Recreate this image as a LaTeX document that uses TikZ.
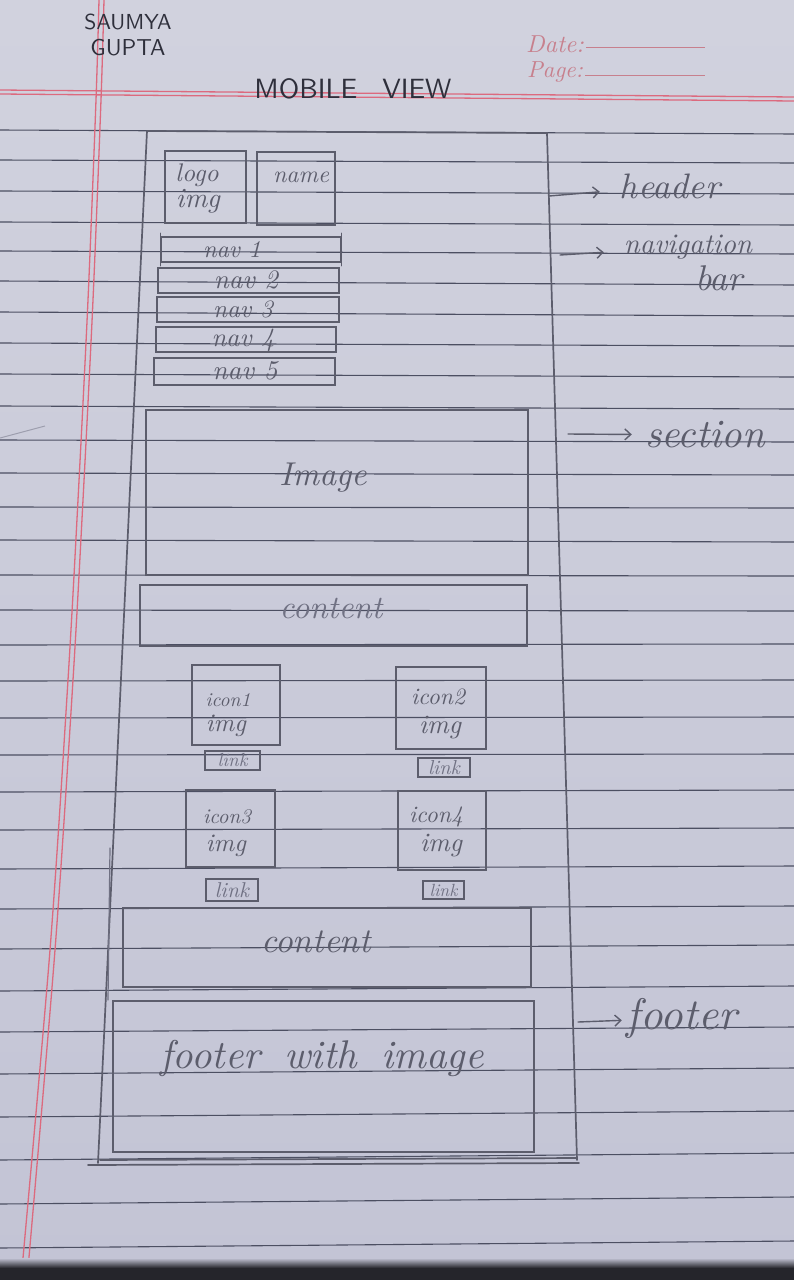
\documentclass[tikz,border=0pt]{standalone}
\usepackage{fontspec}
\usepackage{graphicx}
\usetikzlibrary{arrows.meta}

\definecolor{paper}{HTML}{D1D2DE}
\definecolor{paperlow}{HTML}{C3C4D5}
\definecolor{ruleink}{HTML}{4C4F62}
\definecolor{marginred}{HTML}{DC6A7E}
\definecolor{printred}{HTML}{C7808D}
\definecolor{pencil}{HTML}{5C5D6C}
\definecolor{pencillite}{HTML}{707183}
\definecolor{penink}{HTML}{2E2F3B}
\definecolor{tabledge}{HTML}{25252B}

% scale a piece of text to a given width (in pt)
\newcommand{\fitw}[2]{\resizebox{#1pt}{!}{#2}}

\tikzset{
  ruled/.style={draw=ruleink, line width=1.1pt},
  redrule/.style={draw=marginred, line width=1.3pt},
  frame/.style={draw=pencil, line width=1.7pt, line cap=round},
  pbox/.style={draw=pencil, line width=1.6pt, inner sep=0pt, fill=none},
  linkbox/.style={draw=pencil, line width=2pt, inner sep=0pt, fill=none},
  hand/.style={text=pencil, inner sep=0pt, font=\itshape},
  handlite/.style={text=pencillite, inner sep=0pt, font=\itshape},
  caps/.style={text=penink, inner sep=0pt, font=\sffamily},
  printed/.style={text=printred, inner sep=0pt, font=\rmfamily\itshape},
  annot/.style={draw=pencil, line width=1.4pt, line cap=round,
    -{Straight Barb[length=6pt,width=11pt]}},
}

\begin{document}
\begin{tikzpicture}[x=1pt,y=-1pt]
\useasboundingbox (0,0) rectangle (794,1280);

% notebook page
\fill[top color=paper, bottom color=paperlow] (0,0) rectangle (794,1280);

% ruled lines (left end / right end)
\foreach \l/\r in {130/134,160/163,191/194,222/225,251/254,281/285,312/316,
  343/346,374/377,406/409,440/442,473/475,507/508,540/542,575/576,610/611,
  645/644,681/680,718/717,755/754,792/790,830/828,869/866,909/906,949/945,
  991/986,1032/1027,1074/1068,1117/1111,1160/1153,1204/1197,1248/1241}
  \draw[ruled] (0,\l) -- (794,\r);

% red header rule (double)
\draw[redrule] (0,90) -- (794,97);
\draw[redrule] (0,94) -- (794,101);

% red margin (double)
\draw[redrule] plot[smooth] coordinates {(99,0) (96,100) (88,300) (78,500) (68,680) (50,950) (21,1280)};
\draw[redrule] plot[smooth] coordinates {(104,0) (101,100) (93,300) (83,500) (73,680) (55,950) (27,1280)};

% printed page fields
\node[printed] (date) at (555,44) {\fitw{58}{Date:}};
\node[printed] (page) at (555,72) {\fitw{56}{Page:}};
\coordinate (dateL) at (586,47);
\coordinate (dateR) at (705,47);
\coordinate (pageL) at (585,75);
\coordinate (pageR) at (705,75);
\draw[printred, line width=0.8pt] (dateL) -- (dateR);
\draw[printred, line width=0.8pt] (pageL) -- (pageR);

% author and title
\node[caps] (author1) at (128,22) {\fitw{87}{SAUMYA}};
\node[caps] (author2) at (128,48) {\fitw{75}{GUPTA}};
\node[caps] (title) at (353,89) {\fitw{197}{MOBILE\hspace{0.9em}VIEW}};

% phone frame
\draw[frame] (147,131) -- (547,133) -- (577,1160);
\draw[frame] (147,131) -- (98,1163);
\draw[frame] (88,1165) -- (579,1163);
\draw[frame] (100,1160) -- (577,1158);
\draw[frame, draw=pencillite, line width=1.2pt] (110,848) -- (108,1000);
\draw[pencillite, line width=1pt, opacity=0.5] (0,438) -- (45,426);

% header
\node[pbox, minimum width=81, minimum height=72] (logo) at (205.5,187) {};
\node[pbox, minimum width=78, minimum height=73] (name) at (296,188.5) {};
\node[hand] (tlogo) at (197,175) {\fitw{43}{logo}};
\node[hand] (tlogoimg) at (198,201) {\fitw{44}{img}};
\node[hand] (tname) at (301,177) {\fitw{56}{name}};

% navigation bar
\node[pbox, minimum width=180, minimum height=25] (nav1) at (251,249.5) {};
\node[pbox, minimum width=181, minimum height=25] (nav2) at (248.5,280.5) {};
\node[pbox, minimum width=182, minimum height=25] (nav3) at (248,309.5) {};
\node[pbox, minimum width=180, minimum height=25] (nav4) at (246,339.5) {};
\node[pbox, minimum width=181, minimum height=27] (nav5) at (244.5,371.5) {};
\draw[frame, line width=1.3pt] ([yshift=3pt]nav1.north west) -- ([yshift=-3pt]nav1.south west);
\draw[frame, line width=1.3pt] ([yshift=3pt]nav1.north east) -- ([yshift=-3pt]nav1.south east);
\node[hand] (tnav1) at (232,250) {\fitw{58}{nav 1}};
\node[hand] (tnav2) at (246,280) {\fitw{64}{nav 2}};
\node[hand] (tnav3) at (243,309) {\fitw{60}{nav 3}};
\node[hand] (tnav4) at (243,340) {\fitw{63}{nav 4}};
\node[hand] (tnav5) at (245,371) {\fitw{65}{nav 5}};

% section
\node[pbox, minimum width=382, minimum height=165] (image) at (337,492.5) {};
\node[hand] (timage) at (323,478) {\fitw{87}{Image}};
\node[pbox, minimum width=387, minimum height=61] (content1) at (333.5,615.5) {};
\node[handlite] (tcontent1) at (331,608) {\fitw{103}{content}};

% icons with links
\node[pbox, minimum width=88, minimum height=80] (icon1) at (236,705) {};
\node[pbox, minimum width=90, minimum height=82] (icon2) at (441,708) {};
\node[pbox, minimum width=89, minimum height=77] (icon3) at (230.5,828.5) {};
\node[pbox, minimum width=88, minimum height=79] (icon4) at (442,830.5) {};
\node[hand] (ticon1) at (228,700) {\fitw{45}{icon1}};
\node[hand] (ticon1img) at (226,726) {\fitw{40}{img}};
\node[hand] (ticon2) at (438,697) {\fitw{54}{icon2}};
\node[hand] (ticon2img) at (440,728) {\fitw{42}{img}};
\node[hand] (ticon3) at (227,817) {\fitw{48}{icon3}};
\node[hand] (ticon3img) at (226,846) {\fitw{40}{img}};
\node[hand] (ticon4) at (436,817) {\fitw{54}{icon4}};
\node[hand] (ticon4img) at (441,846) {\fitw{42}{img}};

\node[linkbox, minimum width=55, minimum height=19] (link1) at (232.5,760.5) {};
\node[linkbox, minimum width=52, minimum height=19] (link2) at (444,767.5) {};
\node[linkbox, minimum width=52, minimum height=22] (link3) at (232,890) {};
\node[linkbox, minimum width=41, minimum height=18] (link4) at (443.5,890) {};
\node[handlite] (tlink1) at (link1) {\fitw{30}{link}};
\node[handlite] (tlink2) at (link2) {\fitw{32}{link}};
\node[handlite] (tlink3) at (link3) {\fitw{34}{link}};
\node[handlite] (tlink4) at (link4) {\fitw{28}{link}};

% second content block
\node[pbox, minimum width=408, minimum height=79] (content2) at (327,947.5) {};
\node[hand] (tcontent2) at (316,942) {\fitw{110}{content}};

% footer
\node[pbox, minimum width=421, minimum height=151] (footer) at (323.5,1076.5) {};
\node[hand] (tfooter) at (322,1058) {\fitw{323}{footer\hspace{0.6em}with\hspace{0.6em}image}};

% annotations
\node[hand] (lheader) at (670,186) {\fitw{100}{header}};
\node[hand] (lnav) at (688,247) {\fitw{128}{navigation}};
\node[hand] (lbar) at (719,278) {\fitw{48}{bar}};
\node[hand] (lsection) at (705,435) {\fitw{120}{section}};
\node[hand] (lfooter) at (682,1018) {\fitw{110}{footer}};

\coordinate (aheader) at (549,196);
\coordinate (anav) at (560,255);
\coordinate (asection) at (568,434);
\coordinate (afooter) at (578,1022);
\draw[annot, shorten >=20pt] (aheader) -- (lheader);
\draw[annot, shorten >=20pt] (anav) -- (lnav);
\draw[annot, shorten >=13pt] (asection) -- (lsection);
\draw[annot, shorten >=5pt] (afooter) -- (lfooter);

% table edge below the page
\shade[top color=paperlow, bottom color=tabledge] (0,1258) rectangle (794,1268);
\fill[tabledge] (0,1268) rectangle (794,1280);
\end{tikzpicture}
\end{document}
